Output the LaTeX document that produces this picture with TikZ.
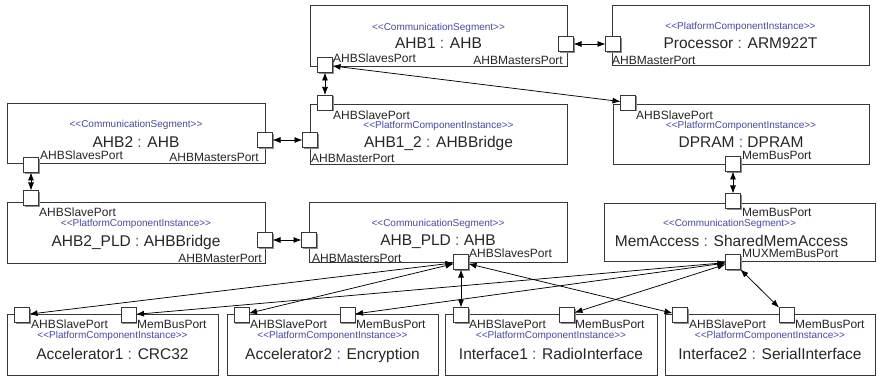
\documentclass[tikz,border=0pt]{standalone}
\usepackage{fontspec}
\setmainfont{Liberation Sans}
\usetikzlibrary{arrows.meta,shadows}
\definecolor{stereoblue}{RGB}{72,72,176}
\definecolor{linegray}{RGB}{55,55,55}

\begin{document}
\begin{tikzpicture}[x=1pt, y=-1pt,
    box/.style={draw=linegray, line width=0.8pt, fill=white, anchor=north west,
        inner sep=0pt, outer sep=0pt, minimum height=60pt,
        drop shadow={shadow xshift=1.3pt, shadow yshift=-1.3pt, fill=black!45, opacity=1}},
    port/.style={draw=linegray, line width=0.8pt, fill=white, minimum size=15pt,
        inner sep=0pt, outer sep=0pt,
        drop shadow={shadow xshift=1.3pt, shadow yshift=-1.3pt, fill=black!45, opacity=1}},
    stereo/.style={font=\fontsize{10}{11}\selectfont, text=stereoblue, anchor=base, inner sep=0pt},
    instname/.style={font=\fontsize{15.5}{17}\selectfont, text=black!85, anchor=base, inner sep=0pt},
    portlbl/.style={font=\fontsize{12}{13}\selectfont, text=black!85, inner sep=0pt},
    link/.style={{Latex[length=8pt,width=6pt]}-{Latex[length=8pt,width=6pt]}, line width=0.75pt}]
    \useasboundingbox (0,0) rectangle (877,379);

    % boxes
    \node[box, minimum width=257pt, minimum height=61pt] (ahb1) at (310,5) {};
    \node[box, minimum width=257pt] (proc) at (612,5) {};
    \node[box, minimum width=258pt] (ahb2) at (7,103) {};
    \node[box, minimum width=257pt] (ahb12) at (310,104) {};
    \node[box, minimum width=256pt] (dpram) at (613,104) {};
    \node[box, minimum width=258pt, minimum height=61pt] (ahb2pld) at (7,202) {};
    \node[box, minimum width=258pt] (ahbpld) at (309,202) {};
    \node[box, minimum width=271pt, minimum height=58pt] (memacc) at (604,203) {};
    \node[box, minimum width=211pt, minimum height=61pt] (acc1) at (7,314) {};
    \node[box, minimum width=211pt, minimum height=61pt] (acc2) at (227,314) {};
    \node[box, minimum width=212pt, minimum height=61pt] (if1) at (445,314) {};
    \node[box, minimum width=210pt, minimum height=61pt] (if2) at (665,314) {};

    % stereotypes and names
    \node[stereo] at ([yshift=-26pt]ahb1.north) {<\kern0pt<CommunicationSegment>\kern0pt>};
    \node[instname] at ([yshift=-44pt]ahb1.north) {AHB1 \textcolor{stereoblue}{:} AHB};
    \node[stereo] at ([yshift=-25pt]proc.north) {<\kern0pt<PlatformComponentInstance>\kern0pt>};
    \node[instname] at ([yshift=-44pt]proc.north) {Processor \textcolor{stereoblue}{:} ARM922T};
    \node[stereo] at ([yshift=-25pt]ahb2.north) {<\kern0pt<CommunicationSegment>\kern0pt>};
    \node[instname] at ([yshift=-45pt]ahb2.north) {AHB2 \textcolor{stereoblue}{:} AHB};
    \node[stereo] at ([yshift=-25pt]ahb12.north) {<\kern0pt<PlatformComponentInstance>\kern0pt>};
    \node[instname] at ([yshift=-44pt]ahb12.north) {AHB1\_2 \textcolor{stereoblue}{:} AHBBridge};
    \node[stereo] at ([yshift=-25pt]dpram.north) {<\kern0pt<PlatformComponentInstance>\kern0pt>};
    \node[instname] at ([yshift=-44pt]dpram.north) {DPRAM \textcolor{stereoblue}{:} DPRAM};
    \node[stereo] at ([yshift=-25pt]ahb2pld.north) {<\kern0pt<PlatformComponentInstance>\kern0pt>};
    \node[instname] at ([yshift=-44pt]ahb2pld.north) {AHB2\_PLD \textcolor{stereoblue}{:} AHBBridge};
    \node[stereo] at ([yshift=-25pt]ahbpld.north) {<\kern0pt<CommunicationSegment>\kern0pt>};
    \node[instname] at ([yshift=-43pt]ahbpld.north) {AHB\_PLD \textcolor{stereoblue}{:} AHB};
    \node[stereo] at ([xshift=-10pt, yshift=-24pt]memacc.north) {<\kern0pt<CommunicationSegment>\kern0pt>};
    \node[instname] at ([xshift=-8pt, yshift=-43pt]memacc.north) {MemAccess \textcolor{stereoblue}{:} SharedMemAccess};
    \node[stereo] at ([yshift=-24pt]acc1.north) {<\kern0pt<PlatformComponentInstance>\kern0pt>};
    \node[instname] at ([yshift=-45pt]acc1.north) {Accelerator1 \textcolor{stereoblue}{:} CRC32};
    \node[stereo] at ([yshift=-24pt]acc2.north) {<\kern0pt<PlatformComponentInstance>\kern0pt>};
    \node[instname] at ([yshift=-45pt]acc2.north) {Accelerator2 \textcolor{stereoblue}{:} Encryption};
    \node[stereo] at ([yshift=-24pt]if1.north) {<\kern0pt<PlatformComponentInstance>\kern0pt>};
    \node[instname] at ([yshift=-45pt]if1.north) {Interface1 \textcolor{stereoblue}{:} RadioInterface};
    \node[stereo] at ([yshift=-24pt]if2.north) {<\kern0pt<PlatformComponentInstance>\kern0pt>};
    \node[instname] at ([yshift=-45pt]if2.north) {Interface2 \textcolor{stereoblue}{:} SerialInterface};

    % ports
    \node[port] (ahb1s) at (325,65) {};
    \node[port] (ahb1m) at (566,44) {};
    \node[port] (procm) at (613,44) {};
    \node[port] (ahb2s) at (31,165) {};
    \node[port] (ahb2m) at (265,140) {};
    \node[port] (ahb12s) at (325,102.5) {};
    \node[port] (ahb12m) at (310,140) {};
    \node[port] (dprams) at (628,102.5) {};
    \node[port] (dpramb) at (733,164) {};
    \node[port] (ahb2plds) at (31,198) {};
    \node[port] (ahb2pldm) at (265,240) {};
    \node[port] (ahbpldm) at (309,240) {};
    \node[port] (ahbplds) at (461,262) {};
    \node[port] (memaccb) at (733,201) {};
    \node[port] (memaccx) at (733,262) {};
    \node[port] (acc1s) at (22,315) {};
    \node[port] (acc1b) at (128.5,315) {};
    \node[port] (acc2s) at (241.5,315) {};
    \node[port] (acc2b) at (347.5,315) {};
    \node[port] (if1s) at (461,315) {};
    \node[port] (if1b) at (567,315) {};
    \node[port] (if2s) at (680,315) {};
    \node[port] (if2b) at (786.5,315) {};

    % port labels
    \node[portlbl, anchor=base west] at (333,63) {AHBSlavesPort};
    \node[portlbl, anchor=base east] at (563,65) {AHBMastersPort};
    \node[portlbl, anchor=base west] at (612,65) {AHBMasterPort};
    \node[portlbl, anchor=base west] at (40,160) {AHBSlavesPort};
    \node[portlbl, anchor=base east] at (259,162) {AHBMastersPort};
    \node[portlbl, anchor=base west] at (333,120) {AHBSlavePort};
    \node[portlbl, anchor=base west] at (311,163) {AHBMasterPort};
    \node[portlbl, anchor=base west] at (636,120) {AHBSlavePort};
    \node[portlbl, anchor=base west] at (742,160) {MemBusPort};
    \node[portlbl, anchor=base west] at (39,217) {AHBSlavePort};
    \node[portlbl, anchor=base east] at (262,262) {AHBMasterPort};
    \node[portlbl, anchor=base west] at (312,262) {AHBMastersPort};
    \node[portlbl, anchor=base west] at (469,257) {AHBSlavesPort};
    \node[portlbl, anchor=base west] at (742,217) {MemBusPort};
    \node[portlbl, anchor=base west] at (742,258) {MUXMemBusPort};
    \node[portlbl, anchor=base west] at (31,328) {AHBSlavePort};
    \node[portlbl, anchor=base west] at (137,328) {MemBusPort};
    \node[portlbl, anchor=base west] at (250,328) {AHBSlavePort};
    \node[portlbl, anchor=base west] at (356,328) {MemBusPort};
    \node[portlbl, anchor=base west] at (469,328) {AHBSlavePort};
    \node[portlbl, anchor=base west] at (575,328) {MemBusPort};
    \node[portlbl, anchor=base west] at (689,328) {AHBSlavePort};
    \node[portlbl, anchor=base west] at (795,328) {MemBusPort};

    % connectors
    \draw[link] (ahb1m) -- (procm);
    \draw[link] (ahb1s) -- (ahb12s);
    \draw[link] (ahb1s) -- (dprams);
    \draw[link] (ahb2m) -- (ahb12m);
    \draw[link] (ahb2s) -- (ahb2plds);
    \draw[link] (dpramb) -- (memaccb);
    \draw[link] (ahb2pldm) -- (ahbpldm);
    \draw[link] (ahbplds) -- (acc1s);
    \draw[link] (ahbplds) -- (acc2s);
    \draw[link] (ahbplds) -- (if1s);
    \draw[link] (ahbplds) -- (if2s);
    \draw[link] (memaccx) -- (acc1b);
    \draw[link] (memaccx) -- (acc2b);
    \draw[link] (memaccx) -- (if1b);
    \draw[link] (memaccx) -- (if2b);
\end{tikzpicture}
\end{document}
